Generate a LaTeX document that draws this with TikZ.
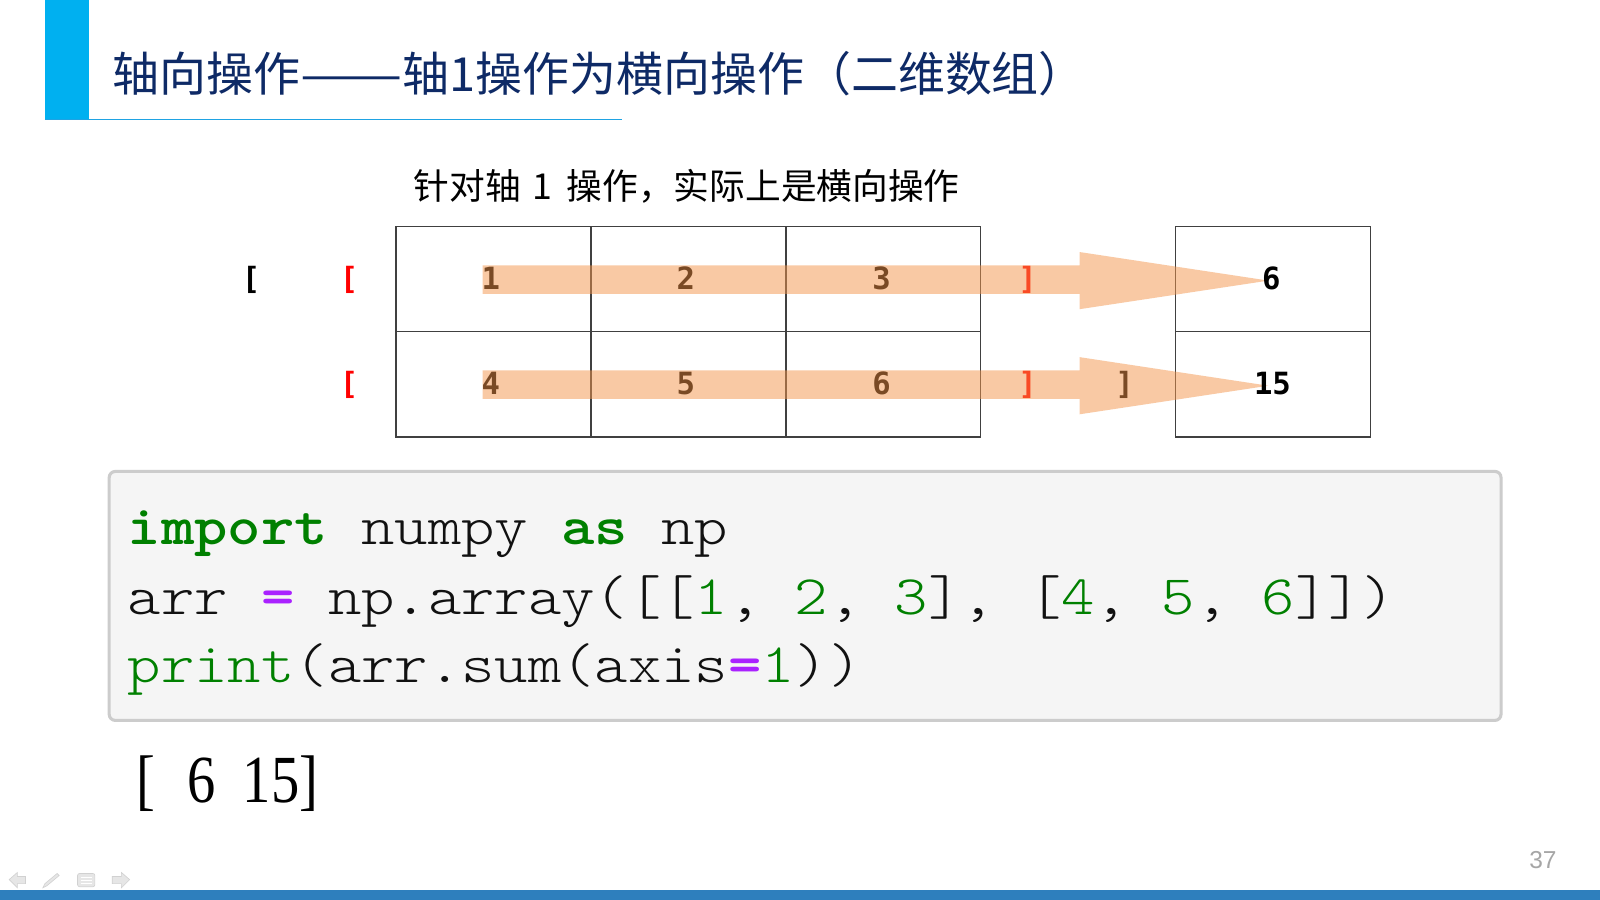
\documentclass[tikz,border=0pt]{standalone}
\usepackage{fontspec}
\setmainfont{Liberation Serif}
\newfontfamily\cjk{Noto Sans CJK SC}
\newfontfamily\numfont{DejaVu Sans Mono}
\newfontfamily\pnfont{Liberation Sans}
\definecolor{barblue}{HTML}{00B0F0}
\definecolor{lineblue}{HTML}{1FA3E3}
\definecolor{titlenavy}{HTML}{0E2A66}
\definecolor{gridgray}{HTML}{404040}
\definecolor{arroworange}{HTML}{F4944A}
\definecolor{codebg}{HTML}{F5F5F5}
\definecolor{codeborder}{HTML}{CCCCCC}
\definecolor{kwgreen}{HTML}{008000}
\definecolor{oppurple}{HTML}{AA22FF}
\definecolor{codetext}{HTML}{111111}
\definecolor{botblue}{HTML}{2E7FBD}
\definecolor{navgray}{HTML}{E6E6E6}
\definecolor{pngray}{HTML}{A6A6A6}
\begin{document}
\begin{tikzpicture}[x=0.5pt,y=-0.5pt,
  cell/.style={draw=gridgray,line width=0.8pt},
  num/.style={inner sep=0pt,font=\numfont\bfseries\fontsize{15pt}{15pt}\selectfont},
  brk/.style={inner sep=0pt,font=\numfont\bfseries\fontsize{15pt}{15pt}\selectfont},
  codeline/.style={anchor=base west,inner sep=0pt,font=\ttfamily\fontseries{l}\fontsize{27.3pt}{27.3pt}\selectfont,text=codetext},
  flow/.style={fill=arroworange,fill opacity=0.5,draw=none},
  navicon/.style={fill=navgray,draw=navgray!80!gray,line width=0.3pt}
]
\useasboundingbox (0,0) rectangle (1568,882);
\fill[white] (0,0) rectangle (1568,882);
% header
\fill[barblue] (44,0) rectangle (87,117);
\draw[lineblue,line width=0.8pt] (44,117) -- (610,117);
\node[anchor=west,inner sep=0pt,text=titlenavy,font=\cjk\fontsize{23pt}{23pt}\selectfont] (title) at (110,72) {轴向操作\scalebox{1.3}[1]{——}轴1操作为横向操作（二维数组）};
\node[anchor=west,inner sep=0pt,font=\cjk\fontsize{17.5pt}{17.5pt}\selectfont] (sub) at (405,183) {针对轴\hspace{2pt} 1 \hspace{3pt}操作，实际上是横向操作};
% table
\foreach \i/\x in {0/388,1/579,2/770}{
  \foreach \j/\y in {0/222,1/325}{
    \draw[cell] (\x,\y) rectangle ++(191,103);
  }
}
\draw[cell] (1152,222) rectangle (1343,325);
\draw[cell] (1152,325) rectangle (1343,428);
% numbers
\node[num] (n1) at (481,273) {1};
\node[num] (n2) at (672,273) {2};
\node[num] (n3) at (864,273) {3};
\node[num] (n4) at (481,376) {4};
\node[num] (n5) at (672,376) {5};
\node[num] (n6) at (864,376) {6};
\node[brk] (ob) at (246,274) {[};
\node[brk,text=red] (r1o) at (342,274) {[};
\node[brk,text=red] (r2o) at (342,377) {[};
\node[brk,text=red] (r1c) at (1007,274) {]};
\node[brk,text=red] (r2c) at (1007,377) {]};
\node[brk] (cb) at (1102,377) {]};
% flow arrows
\fill[flow] (473,260) -- (1058,260) -- (1058,247) -- (1243,275) -- (1058,303) -- (1058,288) -- (473,288) -- cycle;
\fill[flow] (473,363) -- (1058,363) -- (1058,350) -- (1243,378) -- (1058,406) -- (1058,391) -- (473,391) -- cycle;
\node[num] (s1) at (1246,273) {6};
\node[num] (s2) at (1247,376) {15};
% code box
\draw[fill=codebg,draw=codeborder,line width=1.5pt,rounded corners=3pt] (107,462) rectangle (1471,706);
\node[codeline] (c1) at (125,534) {\scalebox{1.14}[1]{\textcolor{kwgreen}{\bfseries import} numpy \textcolor{kwgreen}{\bfseries as} np}};
\node[codeline] (c2) at (125,602) {\scalebox{1.14}[1]{arr \textcolor{oppurple}{\bfseries =} np.array([[\textcolor{kwgreen}{1}, \textcolor{kwgreen}{2}, \textcolor{kwgreen}{3}], [\textcolor{kwgreen}{4}, \textcolor{kwgreen}{5}, \textcolor{kwgreen}{6}]])}};
\node[codeline] (c3) at (125,669) {\scalebox{1.14}[1]{\textcolor{kwgreen}{print}(arr.sum(axis\textcolor{oppurple}{\bfseries =}\textcolor{kwgreen}{1}))}};
% output
\node[anchor=west,inner sep=0pt,font=\fontsize{33pt}{33pt}\selectfont] (out) at (133,768) {\scalebox{0.84}[1]{[\hspace{18.75pt}6\hspace{16pt}15]}};
% page number
\node[inner sep=0pt,text=pngray,font=\pnfont\fontsize{12pt}{12pt}\selectfont] (pg) at (1512,843) {37};
% bottom bar
\fill[botblue] (0,872) rectangle (1568,882);
% nav icons
\filldraw[navicon] (9,862) -- (17,855) -- (17,859) -- (25,859) -- (25,866) -- (17,866) -- (17,870) -- cycle;
\filldraw[navicon] (42,870) -- (44,866) -- (56,856) -- (58,858) -- (46,868) -- cycle;
\filldraw[navicon,rounded corners=1pt] (76,856) rectangle (93,869);
\draw[white,line width=0.6pt] (79,860) -- (90,860) (79,863) -- (90,863) (79,866) -- (90,866);
\filldraw[navicon] (127,862) -- (119,855) -- (119,859) -- (110,859) -- (110,866) -- (119,866) -- (119,870) -- cycle;
\end{tikzpicture}
\end{document}
